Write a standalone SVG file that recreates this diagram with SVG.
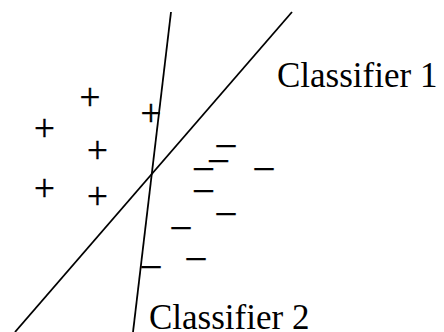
<svg xmlns="http://www.w3.org/2000/svg" width="444" height="332" viewBox="0 0 444 332">
<style>
.bg{fill:#ffffff}
.ln{stroke:#000;stroke-width:1.8;fill:none}
.lbl{font-family:"Liberation Serif","Times New Roman",serif;font-size:35px;fill:#000}
.sym{font-family:"Liberation Serif","Times New Roman",serif;font-size:37px;fill:#000;stroke:#000;stroke-width:0.4;text-anchor:middle}
</style>
<rect class="bg" x="0" y="0" width="444" height="332"/>
<g id="connectors">
<line class="ln" x1="171" y1="12" x2="133" y2="332"/>
<line class="ln" x1="292" y1="12" x2="15" y2="332"/>
</g>
<g id="positives">
<text class="sym" x="90" y="109.5">+</text>
<text class="sym" x="151" y="125.5">+</text>
<text class="sym" x="44.5" y="141">+</text>
<text class="sym" x="97.5" y="163">+</text>
<text class="sym" x="44.5" y="201">+</text>
<text class="sym" x="97.5" y="209">+</text>
</g>
<g id="negatives">
<text class="sym" x="226" y="155">–</text>
<text class="sym" x="218.5" y="170">–</text>
<text class="sym" x="203.5" y="178">–</text>
<text class="sym" x="264" y="178">–</text>
<text class="sym" x="203.5" y="200">–</text>
<text class="sym" x="226" y="223">–</text>
<text class="sym" x="181" y="237">–</text>
<text class="sym" x="196" y="268">–</text>
<text class="sym" x="151" y="276">–</text>
</g>
<g id="classifier1"><text class="lbl" x="277" y="87">Classifier 1</text></g>
<g id="classifier2"><text class="lbl" x="149" y="329">Classifier 2</text></g>
</svg>
